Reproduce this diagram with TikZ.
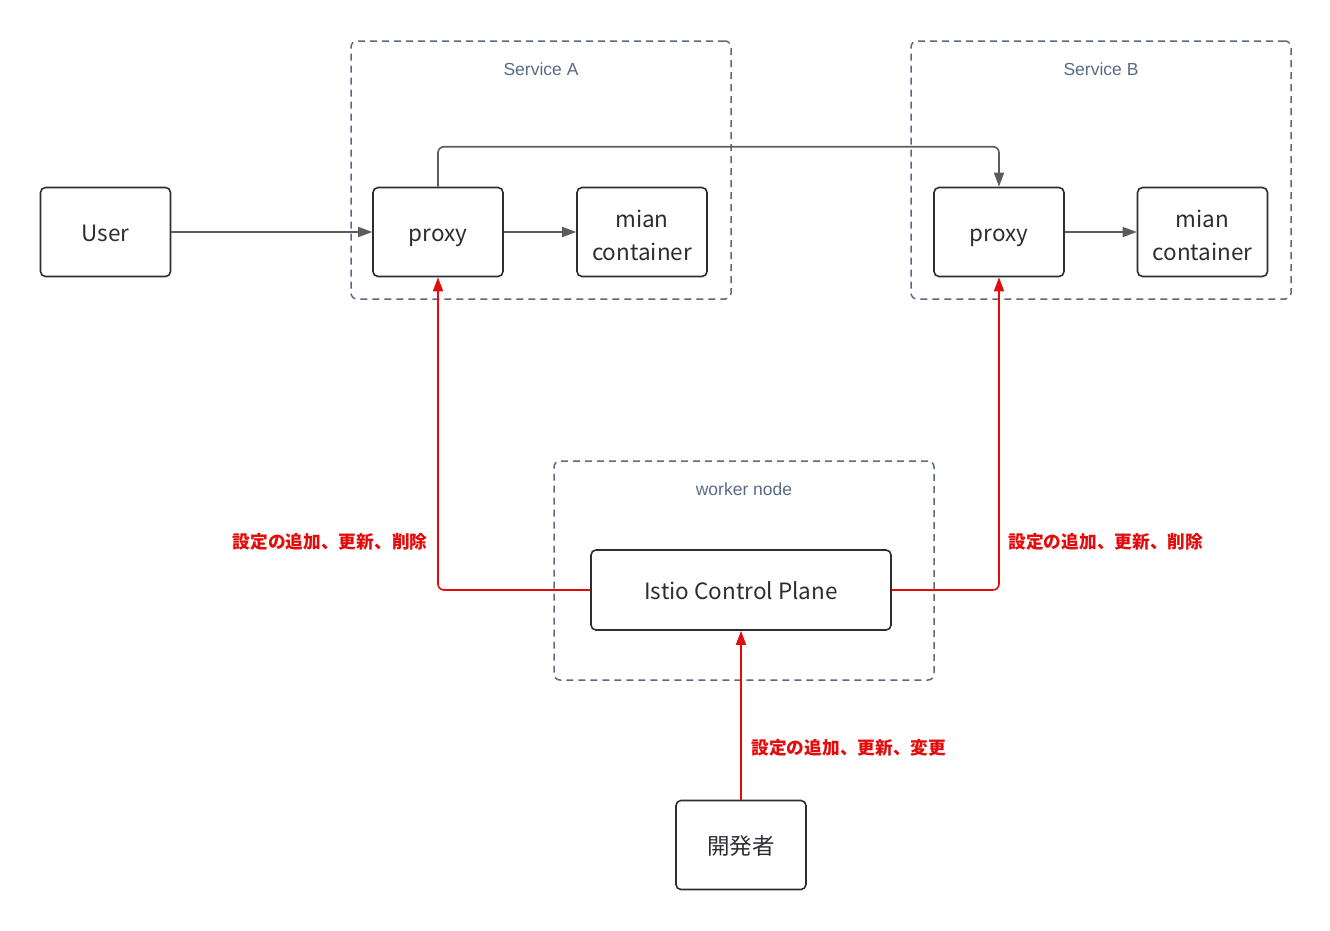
\documentclass[tikz,border=0pt]{standalone}
\usepackage{fontspec}
\setmainfont{Noto Sans CJK JP}
\newfontfamily\grpfont{Liberation Sans}
\usetikzlibrary{arrows.meta}
\definecolor{boxline}{HTML}{2B2E34}
\definecolor{grpline}{HTML}{5A6A85}
\definecolor{flowgray}{HTML}{5C5C5C}
\definecolor{ctrlred}{HTML}{E30B0B}

\begin{document}
\begin{tikzpicture}[x=1pt, y=-1pt,
    box/.style={rectangle, draw=boxline, line width=1.6pt, rounded corners=5pt, minimum width=130pt, minimum height=89pt, align=center, font=\fontsize{22.5}{33}\selectfont, text=boxline},
    oneline/.style={text height=21pt, text depth=2pt},
    twoline/.style={text height=56pt, text depth=0pt},
    group/.style={rectangle, draw=grpline, line width=1.5pt, dash pattern=on 7pt off 5pt, rounded corners=6pt},
    grplabel/.style={font=\grpfont\fontsize{17.5}{20}\selectfont, text=grpline},
    flow/.style={draw=flowgray, line width=1.6pt, rounded corners=6pt, -{Triangle[length=14pt,width=10pt]}},
    ctrl/.style={draw=ctrlred, line width=1.6pt, rounded corners=6pt, -{Triangle[length=14pt,width=10pt]}},
    ctrllabel/.style={font=\bfseries\fontsize{17.7}{20}\selectfont, text=ctrlred}]
            \useasboundingbox (0,0) rectangle (1330,930);
            % groups
            \node[group, minimum width=380pt, minimum height=258pt] (svcA) at (541,170) {};
            \node[group, minimum width=380pt, minimum height=258pt] (svcB) at (1101,170) {};
            \node[group, minimum width=380pt, minimum height=219pt] (worker) at (744,570.5) {};
            \node[grplabel] (svcAlabel) at (541,69) {Service A};
            \node[grplabel] (svcBlabel) at (1101,69) {Service B};
            \node[grplabel] (workerlabel) at (744,489) {worker node};
            % boxes
            \node[box, oneline] (user) at (105.5,232) {User};
            \node[box, oneline] (proxyA) at (438,232) {proxy};
            \node[box, twoline] (mainA) at (642,232) {mian\\container};
            \node[box, oneline] (proxyB) at (999,232) {proxy};
            \node[box, twoline] (mainB) at (1202.5,232) {mian\\container};
            \node[box, oneline, minimum width=300pt, minimum height=80pt] (istio) at (741,590) {Istio Control Plane};
            \node[box, oneline] (dev) at (741,845) {開発者};
            % traffic
            \draw[flow] (user) -- (proxyA);
            \draw[flow] (proxyA) -- (mainA);
            \draw[flow] (proxyB) -- (mainB);
            \draw[flow] (proxyA.north) -- ++(0,-40) -| (proxyB.north);
            % config
            \draw[ctrl] (istio.west) -| (proxyA.south);
            \draw[ctrl] (istio.east) -| (proxyB.south);
            \draw[ctrl] (dev) -- (istio);
            \node[ctrllabel, anchor=east] (labelA) at (431,542) {設定の追加、更新、削除};
            \node[ctrllabel, anchor=west] (labelB) at (1005,542) {設定の追加、更新、削除};
            \node[ctrllabel, anchor=west] (labeldev) at (748,748) {設定の追加、更新、変更};
        \end{tikzpicture}
\end{document}
